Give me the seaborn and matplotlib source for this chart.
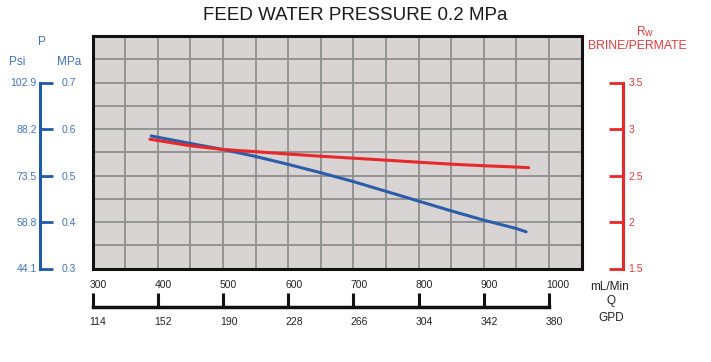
import numpy as np
import matplotlib
matplotlib.use('Agg')
import matplotlib.pyplot as plt
import matplotlib.transforms as mtransforms
import seaborn as sns

# ---------------------------------------------------------
# Data
# ---------------------------------------------------------
# Pressure curve (MPa) vs flow Q (mL/min)
q_pressure = [390, 450, 500, 550, 600, 650, 700, 750, 800, 850, 900, 950, 965]
p_mpa = [0.585, 0.569, 0.556, 0.541, 0.524, 0.506, 0.487, 0.466, 0.445, 0.424, 0.404, 0.386, 0.379]

# Brine/permeate ratio curve vs flow Q (mL/min)
q_ratio = [388, 450, 500, 550, 600, 650, 700, 750, 800, 850, 900, 950, 969]
rw_ratio = [2.89, 2.82, 2.78, 2.756, 2.731, 2.707, 2.686, 2.665, 2.643, 2.622, 2.605, 2.591, 2.584]

# Axis scales
mpa_ticks = [0.3, 0.4, 0.5, 0.6, 0.7]
mpa_labels = ['0.3', '0.4', '0.5', '0.6', '0.7']
psi_labels = ['44.1', '58.8', '73.5', '88.2', '102.9']
rw_ticks = [1.5, 2.0, 2.5, 3.0, 3.5]
rw_labels = ['1.5', '2', '2.5', '3', '3.5']
q_ticks = [300, 400, 500, 600, 700, 800, 900, 1000]
q_labels = ['300', '400', '500', '600', '700', '800', '900', '1000']
gpd_labels = ['114', '152', '190', '228', '266', '304', '342', '380']

BLUE_LINE = '#2c5da8'
BLUE_AXIS = '#1f5aa6'
BLUE_TEXT = '#3f74bb'
RED_LINE = '#e8282b'
RED_TEXT = '#e53b3b'

sns.set_theme(style='white')
plt.rcParams['font.family'] = ['Liberation Sans', 'DejaVu Sans']

W, H = 711, 362


def px_box(x0, y0, x1, y1):
    # pixel box (top-left origin) -> figure fraction rect
    return [x0 / W, 1 - y1 / H, (x1 - x0) / W, (y1 - y0) / H]


fig = plt.figure(figsize=(W / 100, H / 100), dpi=100)

# ---------------------------------------------------------
# Main grid panel
# ---------------------------------------------------------
ax = fig.add_axes(px_box(92.5, 36, 581.5, 268.5))
ax.set_facecolor('#d9d4d4')
ax.set_xlim(300, 1050)
ax.set_ylim(0.3, 0.8)
ax.set_xticks(np.arange(300, 1051, 50))
ax.set_yticks(np.arange(0.3, 0.801, 0.05))
ax.tick_params(length=0, labelbottom=False, labelleft=False)
ax.grid(True, color='#8f8f8f', lw=1.3)
for s in ax.spines.values():
    s.set_color('#111111')
    s.set_linewidth(2.2)

sns.lineplot(x=q_pressure, y=p_mpa, ax=ax, color=BLUE_LINE, lw=2.2, estimator=None)
ax.set_xlabel('')
ax.set_ylabel('')

ax2 = ax.twinx()
ax2.set_ylim(1.5, 4.0)
sns.lineplot(x=q_ratio, y=rw_ratio, ax=ax2, color=RED_LINE, lw=2.2, estimator=None)
ax2.set_yticks([])
ax2.set_ylabel('')
for s in ax2.spines.values():
    s.set_visible(False)

# ---------------------------------------------------------
# Left pressure scale (Psi / MPa)
# ---------------------------------------------------------
axl = fig.add_axes(px_box(40, 36, 53, 268.5))
axl.patch.set_visible(False)
axl.set_ylim(0.3, 0.8)
axl.set_xticks([])
for side in ['top', 'right', 'bottom']:
    axl.spines[side].set_visible(False)
axl.spines['left'].set_bounds(0.3, 0.7)
axl.spines['left'].set_color(BLUE_AXIS)
axl.spines['left'].set_linewidth(2.2)
axl.set_yticks(mpa_ticks)
axl.set_yticklabels(psi_labels)
axl.tick_params(axis='y', direction='in', length=9.4, width=2, color=BLUE_AXIS,
                labelcolor=BLUE_TEXT, labelsize=7.5, pad=2.5)

axl2 = axl.twinx()
axl2.set_ylim(0.3, 0.8)
for s in axl2.spines.values():
    s.set_visible(False)
axl2.set_yticks(mpa_ticks)
axl2.set_yticklabels(mpa_labels)
axl2.tick_params(axis='y', length=0, labelcolor=BLUE_TEXT, labelsize=7.5, pad=6.5)

# ---------------------------------------------------------
# Right ratio scale
# ---------------------------------------------------------
axr = fig.add_axes(px_box(609, 36, 623, 268.5))
axr.patch.set_visible(False)
axr.set_ylim(1.5, 4.0)
axr.set_xticks([])
for side in ['top', 'left', 'bottom']:
    axr.spines[side].set_visible(False)
axr.spines['right'].set_bounds(1.5, 3.5)
axr.spines['right'].set_color(RED_LINE)
axr.spines['right'].set_linewidth(2.2)
axr.yaxis.tick_right()
axr.set_yticks(rw_ticks)
axr.set_yticklabels(rw_labels)
axr.tick_params(axis='y', direction='in', length=10, width=2, color=RED_LINE,
                labelcolor=RED_TEXT, labelsize=7.5, pad=4.1)

# ---------------------------------------------------------
# Bottom flow scale (mL/Min above, GPD below)
# ---------------------------------------------------------
axb = fig.add_axes(px_box(92.5, 292.3, 581.5, 306.7))
axb.patch.set_visible(False)
axb.set_xlim(300, 1050)
axb.set_yticks([])
for side in ['top', 'left', 'right']:
    axb.spines[side].set_visible(False)
axb.spines['bottom'].set_bounds(300, 1000)
axb.spines['bottom'].set_color('#111111')
axb.spines['bottom'].set_linewidth(2.5)
axb.set_xticks(q_ticks)
axb.set_xticklabels(gpd_labels)
axb.tick_params(axis='x', direction='in', length=10.4, width=2.2, color='#111111',
                labelcolor='#222222', labelsize=7.5, pad=7.5)

axb2 = axb.twiny()
axb2.set_xlim(300, 1050)
axb2.set_yticks([])
for s in axb2.spines.values():
    s.set_visible(False)
axb2.set_xticks(q_ticks)
axb2.set_xticklabels(q_labels)
axb2.tick_params(axis='x', length=0, labelcolor='#222222', labelsize=7.5, pad=1.5)

shift = mtransforms.ScaledTranslation(-3 / 100, 0, fig.dpi_scale_trans)
for lbl in axb.get_xticklabels() + axb2.get_xticklabels():
    lbl.set_horizontalalignment('left')
    lbl.set_transform(lbl.get_transform() + shift)

# ---------------------------------------------------------
# Titles and axis captions
# ---------------------------------------------------------
def ftext(x, y, s, **kw):
    fig.text(x / W, 1 - y / H, s, ha='center', va='center', **kw)


ftext(355.5, 15, 'FEED WATER PRESSURE 0.2 MPa', fontsize=13.5, color='#1a1a1a')
ftext(41.7, 42, 'P', fontsize=8.5, color=BLUE_TEXT)
ftext(17, 61.7, 'Psi', fontsize=8.5, color=BLUE_TEXT)
ftext(69, 61.7, 'MPa', fontsize=8.5, color=BLUE_TEXT)
ftext(641, 32, 'R', fontsize=8.5, color=RED_TEXT)
ftext(647.8, 33.5, 'w', fontsize=7.5, color=RED_TEXT)
ftext(637.3, 45.8, 'BRINE/PERMATE', fontsize=8.8, color=RED_TEXT)
ftext(610, 286.7, 'mL/Min', fontsize=8.5, color='#222222')
ftext(611, 301, 'Q', fontsize=8.5, color='#222222')
ftext(611, 317.7, 'GPD', fontsize=8.5, color='#222222')

fig.savefig('out.png', dpi=100)
